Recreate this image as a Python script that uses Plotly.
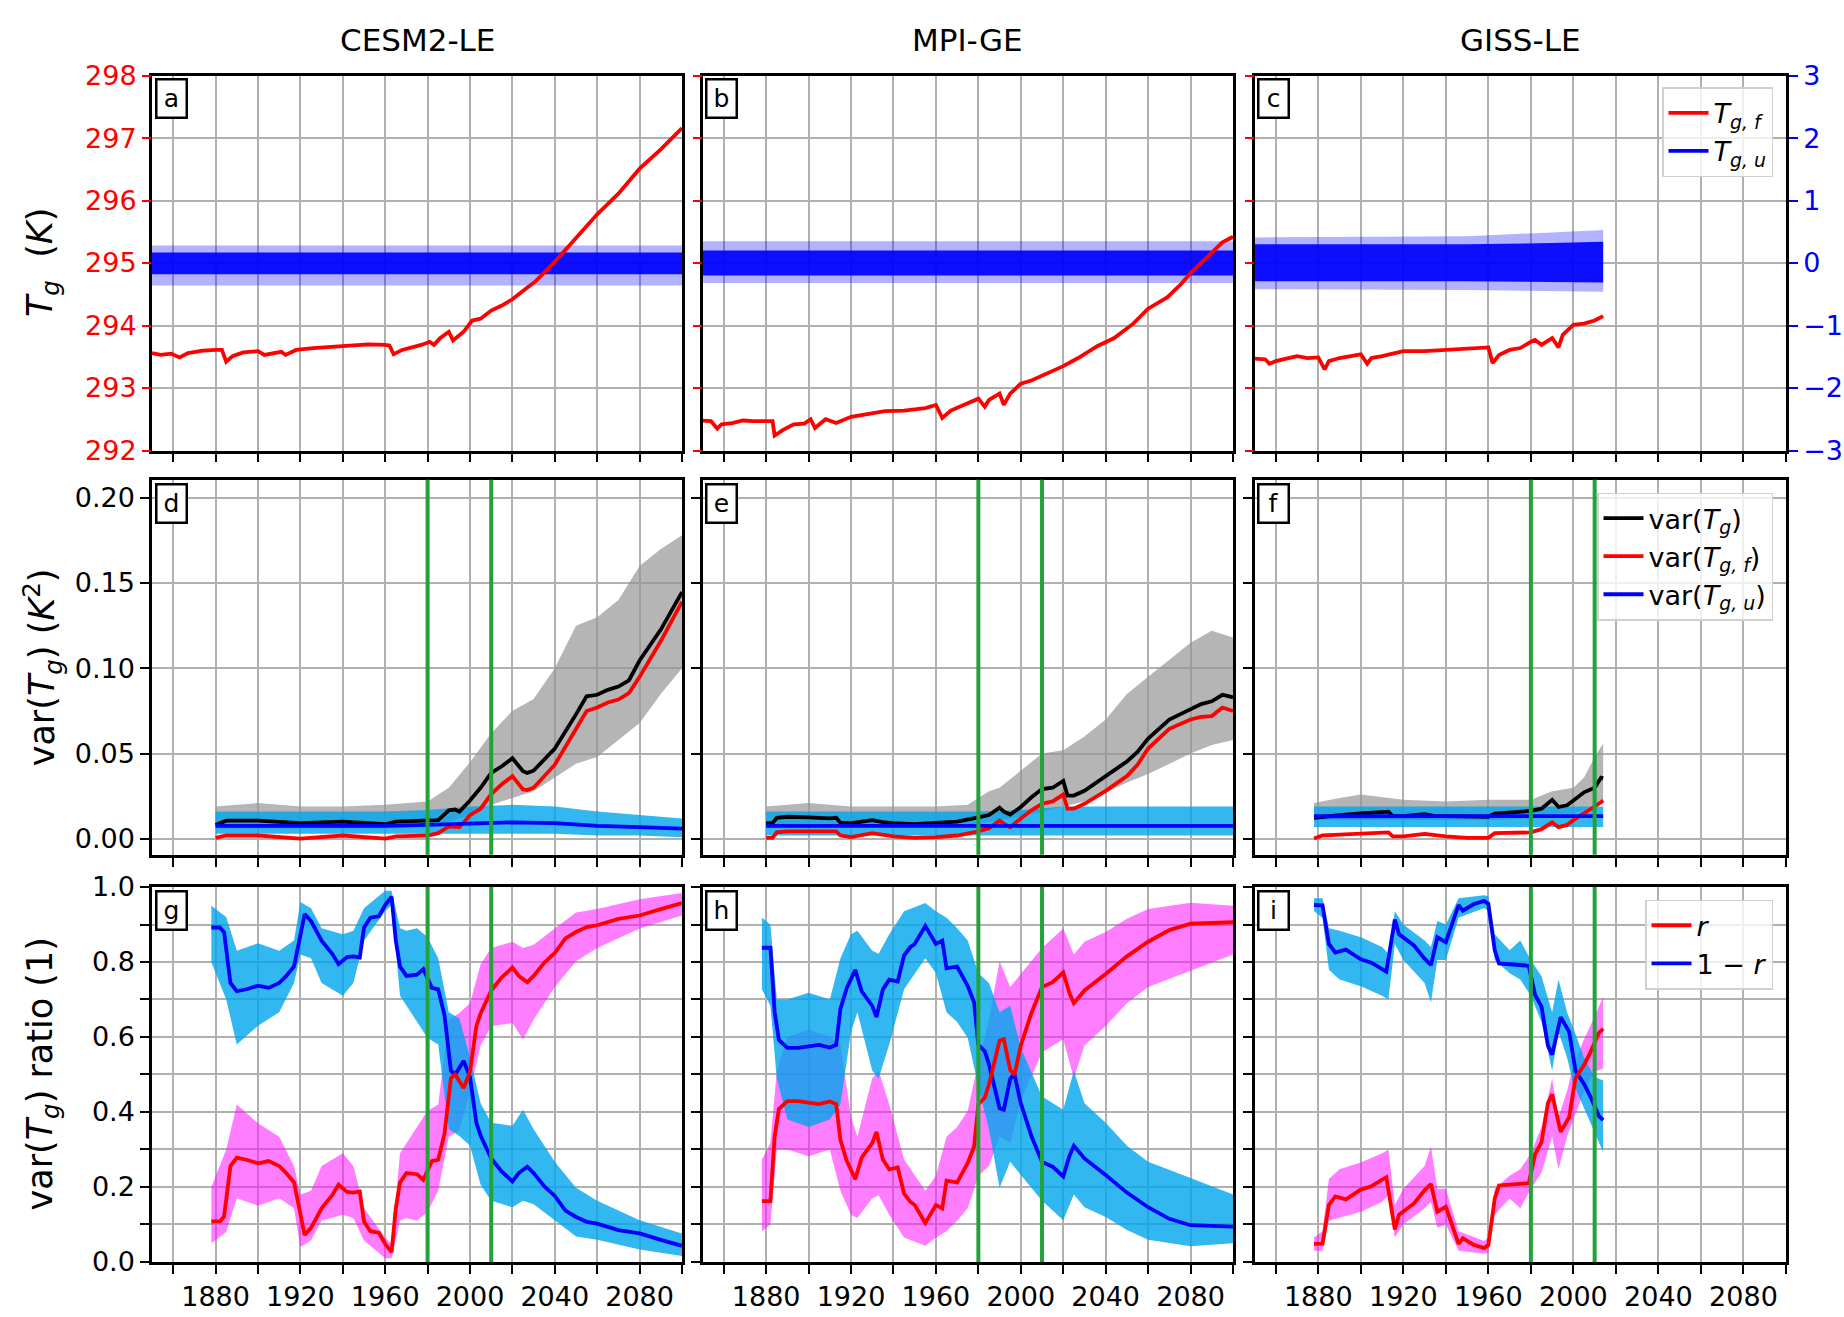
import plotly.graph_objects as go

W, H = 1844, 1317
FONT = "DejaVu Sans"

# ---------------- tick labels ----------------
X_TICKS = [1860, 1880, 1900, 1920, 1940, 1960, 1980, 2000, 2020, 2040, 2060, 2080, 2100]
X_LABELS = ["", "1880", "", "1920", "", "1960", "", "2000", "", "2040", "", "2080", ""]
TK_TICKS = [292, 293, 294, 295, 296, 297, 298]
TK_LABELS = ["292", "293", "294", "295", "296", "297", "298"]
TU_TICKS = [-3, -2, -1, 0, 1, 2, 3]
TU_LABELS = ["\u22123", "\u22122", "\u22121", "0", "1", "2", "3"]
VAR_TICKS = [0.0, 0.05, 0.10, 0.15, 0.20]
VAR_LABELS = ["0.00", "0.05", "0.10", "0.15", "0.20"]
RAT_TICKS = [0.0, 0.1, 0.2, 0.3, 0.4, 0.5, 0.6, 0.7, 0.8, 0.9, 1.0]
RAT_LABELS = ["0.0", "", "0.2", "", "0.4", "", "0.6", "", "0.8", "", "1.0"]
MODELS = ["CESM2-LE", "MPI-GE", "GISS-LE"]
PANEL_LETTERS = ["a", "b", "c", "d", "e", "f", "g", "h", "i"]
GREEN_YEARS = [1980, 2010]

# ---------------- row 1: T_g,f (K) and T_g,u ensemble envelope ----------------
tf_years_a = [1850,1854,1859,1863,1867,1874,1880,1883,1885,1888,1893,1900,1903,1907,1911,1913,1918,1926,1940,1952,
              1960,1962,1964,1968,1977,1981,1983,1986,1990,1992,1997,2001,2005,2010,2015,2020,2026,2031,2040,2050,
              2060,2070,2080,2090,2100]
tf_a = [293.56,293.53,293.55,293.49,293.56,293.60,293.61,293.61,293.42,293.51,293.57,293.59,293.53,293.56,293.58,
        293.53,293.61,293.64,293.68,293.70,293.69,293.68,293.54,293.61,293.69,293.74,293.69,293.80,293.90,293.76,
        293.90,294.08,294.11,294.24,294.32,294.42,294.58,294.71,295.02,295.41,295.78,296.11,296.51,296.82,297.16]
tf_years_b = [1850,1854,1857,1859,1864,1869,1874,1883,1884,1888,1893,1898,1901,1903,1908,1913,1920,1928,1936,1945,
              1955,1960,1963,1967,1973,1980,1983,1985,1990,1992,1995,2000,2005,2012,2020,2027,2036,2044,2053,2060,
              2069,2076,2080,2088,2095,2100]
tf_b = [292.48,292.47,292.35,292.42,292.44,292.48,292.47,292.47,292.24,292.33,292.42,292.43,292.50,292.36,292.50,
        292.44,292.54,292.59,292.63,292.64,292.68,292.73,292.52,292.64,292.73,292.83,292.70,292.81,292.91,292.73,
        292.91,293.07,293.12,293.22,293.35,293.48,293.67,293.80,294.03,294.27,294.45,294.68,294.84,295.10,295.33,
        295.42]
tf_years_c = [1850,1855,1857,1860,1865,1870,1875,1880,1883,1885,1890,1900,1903,1905,1910,1920,1930,1940,1950,1960,
              1962,1965,1970,1975,1980,1982,1985,1990,1993,1995,2000,2005,2010,2014]
tf_c = [293.47,293.46,293.39,293.43,293.47,293.51,293.48,293.49,293.30,293.43,293.48,293.54,293.39,293.48,293.51,
        293.59,293.59,293.61,293.63,293.65,293.40,293.53,293.61,293.64,293.74,293.77,293.69,293.80,293.65,293.85,
        294.01,294.03,294.08,294.15]

tu_years_a = [1850, 2100]
tu_outer_lo_a = [-0.36, -0.36]
tu_outer_hi_a = [0.28, 0.28]
tu_inner_lo_a = [-0.18, -0.18]
tu_inner_hi_a = [0.17, 0.17]
tu_years_b = [1850, 2100]
tu_outer_lo_b = [-0.32, -0.32]
tu_outer_hi_b = [0.35, 0.35]
tu_inner_lo_b = [-0.20, -0.20]
tu_inner_hi_b = [0.20, 0.20]
tu_years_c = [1850, 1950, 1990, 2014]
tu_outer_lo_c = [-0.42, -0.43, -0.45, -0.46]
tu_outer_hi_c = [0.41, 0.43, 0.49, 0.53]
tu_inner_lo_c = [-0.29, -0.29, -0.30, -0.31]
tu_inner_hi_c = [0.30, 0.30, 0.32, 0.34]

# ---------------- row 2: running variances (K^2) ----------------
var_years_d = [1880,1885,1900,1920,1940,1960,1965,1980,1985,1990,1993,1995,2000,2005,2010,2015,2020,2025,2027,2030,
               2040,2050,2055,2060,2065,2070,2075,2080,2090,2100]
var_tot_d = [0.0082,0.0107,0.0107,0.0092,0.0101,0.0086,0.0101,0.0105,0.0110,0.0168,0.0172,0.0160,0.0225,0.0300,
             0.0387,0.0426,0.0473,0.0397,0.0387,0.0400,0.0530,0.0730,0.0836,0.0845,0.0874,0.0893,0.0930,0.1046,
             0.1227,0.1447]
var_f_d = [0.0006,0.0020,0.0020,0.0002,0.0020,0.0002,0.0015,0.0020,0.0034,0.0073,0.0071,0.0069,0.0139,0.0177,
           0.0263,0.0320,0.0368,0.0290,0.0286,0.0300,0.0435,0.0645,0.0750,0.0770,0.0800,0.0817,0.0855,0.0950,
           0.1160,0.1390]
varu_years_d = [1880,1920,1960,1980,2000,2020,2040,2060,2080,2100]
var_u_d = [0.0076,0.0076,0.0076,0.0082,0.0092,0.0097,0.0092,0.0076,0.0069,0.0060]
gray_years_d = [1880,1900,1920,1940,1960,1980,1990,2000,2010,2020,2030,2040,2050,2060,2070,2080,2090,2100]
gray_hi_d = [0.019,0.021,0.019,0.019,0.020,0.022,0.030,0.045,0.062,0.075,0.082,0.100,0.125,0.130,0.140,0.160,0.170,0.178]
gray_lo_d = [0.006,0.006,0.006,0.006,0.006,0.007,0.010,0.014,0.020,0.024,0.028,0.036,0.044,0.048,0.058,0.068,0.085,0.100]
cyanv_years_d = [1880,1920,1960,1980,2000,2020,2040,2060,2080,2100]
cyanv_hi_d = [0.016,0.016,0.016,0.017,0.019,0.020,0.019,0.016,0.014,0.012]
cyanv_lo_d = [0.003,0.003,0.003,0.003,0.003,0.003,0.003,0.002,0.002,0.001]

var_years_e = [1880,1883,1885,1890,1900,1910,1913,1915,1920,1930,1935,1940,1950,1960,1970,1980,1985,1990,1992,1995,
               2000,2005,2010,2015,2020,2022,2025,2030,2040,2050,2055,2060,2070,2080,2085,2090,2095,2100]
var_tot_e = [0.0092,0.0092,0.0124,0.0130,0.0126,0.0120,0.0124,0.0095,0.0092,0.0110,0.0098,0.0092,0.0086,0.0092,
             0.0101,0.0126,0.0140,0.0183,0.0160,0.0143,0.0187,0.0244,0.0292,0.0300,0.0340,0.0254,0.0254,0.0282,
             0.0368,0.0454,0.0510,0.0588,0.0700,0.0760,0.0790,0.0807,0.0845,0.0830]
var_f_e = [0.0006,0.0006,0.0038,0.0044,0.0044,0.0044,0.0044,0.0020,0.0011,0.0034,0.0025,0.0015,0.0006,0.0010,
           0.0020,0.0044,0.0063,0.0107,0.0090,0.0069,0.0120,0.0168,0.0206,0.0220,0.0260,0.0177,0.0177,0.0206,
           0.0282,0.0368,0.0435,0.0530,0.0645,0.0700,0.0715,0.0720,0.0770,0.0750]
varu_years_e = [1880,1940,2000,2060,2100]
var_u_e = [0.0076,0.0076,0.0077,0.0077,0.0077]
gray_years_e = [1880,1900,1920,1940,1960,1975,1985,1990,2000,2010,2020,2030,2040,2050,2060,2070,2080,2090,2100]
gray_hi_e = [0.019,0.021,0.019,0.019,0.019,0.020,0.028,0.030,0.040,0.050,0.052,0.060,0.070,0.085,0.095,0.105,0.115,0.122,0.118]
gray_lo_e = [0.008,0.008,0.008,0.008,0.008,0.008,0.010,0.011,0.013,0.016,0.019,0.022,0.027,0.033,0.038,0.044,0.050,0.055,0.058]
cyanv_years_e = [1880,1940,1980,2000,2020,2040,2060,2080,2100]
cyanv_hi_e = [0.016,0.016,0.016,0.017,0.019,0.019,0.019,0.019,0.019]
cyanv_lo_e = [0.002,0.002,0.002,0.002,0.002,0.002,0.002,0.002,0.002]

var_years_f = [1878,1882,1890,1900,1910,1913,1915,1920,1930,1935,1940,1950,1960,1963,1970,1980,1985,1990,1993,1997,
               2000,2005,2010,2013,2014]
var_tot_f = [0.0124,0.0130,0.0139,0.0149,0.0158,0.0160,0.0134,0.0134,0.0145,0.0134,0.0134,0.0130,0.0130,0.0149,
             0.0153,0.0164,0.0177,0.0229,0.0187,0.0197,0.0225,0.0273,0.0300,0.0359,0.0355]
var_f_f = [0.0002,0.0020,0.0025,0.0029,0.0036,0.0038,0.0015,0.0015,0.0029,0.0020,0.0015,0.0006,0.0006,0.0034,
           0.0034,0.0038,0.0057,0.0097,0.0069,0.0082,0.0110,0.0149,0.0187,0.0215,0.0225]
varu_years_f = [1878,1950,2014]
var_u_f = [0.0133,0.0132,0.0134]
gray_years_f = [1878,1890,1900,1920,1940,1960,1980,1990,2000,2005,2010,2014]
gray_hi_f = [0.021,0.024,0.026,0.023,0.022,0.023,0.023,0.028,0.030,0.036,0.048,0.056]
gray_lo_f = [0.011,0.011,0.011,0.011,0.011,0.011,0.012,0.013,0.015,0.017,0.020,0.022]
cyanv_years_f = [1878,1950,2014]
cyanv_hi_f = [0.019,0.019,0.019]
cyanv_lo_f = [0.007,0.007,0.007]

# ---------------- row 3: variance ratios r and 1-r ----------------
rat_years_g = [1878,1882,1884,1887,1890,1895,1900,1905,1910,1913,1917,1920,1922,1925,1930,1935,1938,1942,1945,1948,
               1950,1953,1957,1960,1963,1965,1967,1970,1975,1978,1980,1982,1985,1988,1991,1993,1997,2000,2003,2005,
               2010,2015,2020,2023,2027,2030,2035,2040,2045,2050,2055,2060,2070,2080,2090,2100]
one_minus_r_g = [0.892,0.892,0.879,0.744,0.722,0.728,0.737,0.731,0.744,0.761,0.788,0.876,0.928,0.909,0.857,0.822,
                 0.794,0.813,0.815,0.812,0.892,0.918,0.922,0.952,0.974,0.857,0.788,0.763,0.766,0.781,0.755,0.731,
                 0.727,0.657,0.510,0.500,0.536,0.493,0.371,0.337,0.276,0.241,0.215,0.237,0.254,0.237,0.202,0.176,
                 0.137,0.120,0.107,0.102,0.085,0.076,0.059,0.043]
r_g = [0.108,0.108,0.121,0.256,0.278,0.272,0.263,0.269,0.256,0.239,0.212,0.124,0.072,0.091,0.143,0.178,0.206,0.187,
       0.185,0.188,0.108,0.082,0.078,0.048,0.026,0.143,0.212,0.237,0.234,0.219,0.245,0.269,0.273,0.343,0.490,0.500,
       0.464,0.507,0.629,0.663,0.724,0.759,0.785,0.763,0.746,0.763,0.798,0.824,0.863,0.880,0.893,0.898,0.915,0.924,
       0.941,0.957]
ens_years_g = [1878,1885,1890,1900,1910,1917,1920,1925,1930,1940,1945,1950,1960,1963,1967,1970,1975,1980,1985,1990,
               1995,2000,2005,2010,2020,2025,2030,2040,2050,2060,2080,2100]
cyan_hi_g = [0.95,0.92,0.83,0.85,0.83,0.857,0.96,0.943,0.89,0.874,0.883,0.943,0.99,0.99,0.89,0.883,0.89,0.866,0.81,
             0.666,0.649,0.545,0.423,0.371,0.363,0.406,0.354,0.267,0.198,0.163,0.111,0.076]
cyan_lo_g = [0.80,0.70,0.58,0.63,0.666,0.744,0.82,0.81,0.744,0.71,0.744,0.857,0.935,0.952,0.71,0.683,0.64,0.597,0.58,
             0.354,0.336,0.31,0.206,0.163,0.146,0.163,0.154,0.111,0.068,0.059,0.033,0.016]
mag_lo_g = [0.05,0.08,0.17,0.15,0.17,0.143,0.04,0.057,0.11,0.126,0.117,0.057,0.01,0.01,0.11,0.117,0.11,0.134,0.19,
            0.334,0.351,0.455,0.577,0.629,0.637,0.594,0.646,0.733,0.802,0.837,0.889,0.924]
mag_hi_g = [0.20,0.30,0.42,0.37,0.334,0.256,0.18,0.19,0.256,0.29,0.256,0.143,0.065,0.048,0.29,0.317,0.36,0.403,0.42,
            0.646,0.664,0.69,0.794,0.837,0.854,0.837,0.846,0.889,0.932,0.941,0.967,0.984]

rat_years_h = [1878,1882,1884,1886,1890,1895,1900,1905,1910,1913,1915,1918,1922,1925,1930,1932,1935,1938,1942,1945,
               1948,1950,1955,1958,1960,1963,1965,1970,1975,1978,1980,1983,1985,1990,1992,1995,1997,2000,2005,2010,
               2015,2020,2023,2025,2030,2040,2050,2060,2070,2080,2090,2100]
one_minus_r_h = [0.838,0.838,0.666,0.592,0.571,0.571,0.575,0.579,0.572,0.579,0.675,0.731,0.779,0.722,0.683,0.653,
                 0.727,0.753,0.748,0.818,0.840,0.848,0.896,0.866,0.848,0.857,0.783,0.788,0.736,0.692,0.579,0.562,
                 0.527,0.410,0.406,0.488,0.501,0.423,0.336,0.267,0.254,0.228,0.284,0.310,0.276,0.232,0.185,0.146,
                 0.115,0.098,0.095,0.094]
r_h = [0.162,0.162,0.334,0.408,0.429,0.429,0.425,0.421,0.428,0.421,0.325,0.269,0.221,0.278,0.317,0.347,0.273,0.247,
       0.252,0.182,0.160,0.152,0.104,0.134,0.152,0.143,0.217,0.212,0.264,0.308,0.421,0.438,0.473,0.590,0.594,0.512,
       0.499,0.577,0.664,0.733,0.746,0.772,0.716,0.690,0.724,0.768,0.815,0.854,0.885,0.902,0.905,0.906]
ens_years_h = [1878,1882,1885,1890,1900,1910,1915,1920,1923,1930,1933,1938,1945,1955,1960,1965,1970,1975,1980,1985,
               1990,1995,2000,2010,2020,2025,2030,2040,2050,2060,2080,2100]
cyan_hi_h = [0.918,0.90,0.70,0.70,0.718,0.70,0.81,0.874,0.883,0.83,0.822,0.874,0.935,0.957,0.935,0.918,0.89,0.857,
             0.77,0.744,0.666,0.683,0.571,0.441,0.406,0.51,0.423,0.371,0.31,0.267,0.224,0.18]
cyan_lo_h = [0.727,0.683,0.49,0.38,0.36,0.38,0.42,0.614,0.666,0.51,0.49,0.58,0.727,0.81,0.77,0.666,0.64,0.597,
             0.467,0.354,0.198,0.267,0.232,0.163,0.111,0.18,0.146,0.12,0.085,0.059,0.042,0.05]
mag_lo_h = [0.082,0.10,0.30,0.30,0.282,0.30,0.19,0.126,0.117,0.17,0.178,0.126,0.065,0.043,0.065,0.082,0.11,0.143,
            0.23,0.256,0.334,0.317,0.429,0.559,0.594,0.49,0.577,0.629,0.69,0.733,0.776,0.82]
mag_hi_h = [0.273,0.317,0.51,0.60,0.62,0.60,0.58,0.386,0.334,0.49,0.51,0.42,0.273,0.19,0.23,0.334,0.36,0.403,
            0.533,0.646,0.802,0.733,0.768,0.837,0.889,0.82,0.854,0.88,0.915,0.941,0.958,0.95]

rat_years_i = [1878,1882,1885,1888,1893,1897,1900,1905,1910,1912,1916,1918,1925,1930,1933,1936,1940,1946,1948,1953,
               1958,1960,1963,1965,1970,1975,1979,1982,1985,1988,1990,1994,1998,2001,2005,2008,2012,2014]
one_minus_r_i = [0.952,0.951,0.848,0.825,0.833,0.818,0.807,0.798,0.779,0.774,0.913,0.874,0.844,0.809,0.792,0.866,
                 0.853,0.952,0.937,0.954,0.963,0.955,0.831,0.796,0.794,0.792,0.790,0.712,0.681,0.577,0.553,0.653,
                 0.614,0.510,0.475,0.441,0.389,0.378]
r_i = [0.048,0.049,0.152,0.175,0.167,0.182,0.193,0.202,0.221,0.226,0.087,0.126,0.156,0.191,0.208,0.134,0.147,0.048,
       0.063,0.046,0.037,0.045,0.169,0.204,0.206,0.208,0.210,0.288,0.319,0.423,0.447,0.347,0.386,0.490,0.525,0.559,
       0.611,0.622]
ens_years_i = [1878,1882,1885,1890,1900,1910,1913,1916,1920,1930,1933,1936,1940,1946,1958,1960,1963,1970,1975,1980,
               1985,1990,1993,1997,2000,2005,2010,2014]
cyan_hi_i = [0.97,0.97,0.89,0.883,0.866,0.84,0.822,0.935,0.90,0.857,0.84,0.909,0.90,0.97,0.978,0.975,0.874,0.831,
             0.857,0.805,0.762,0.666,0.753,0.666,0.623,0.545,0.493,0.484]
cyan_lo_i = [0.935,0.918,0.779,0.753,0.735,0.71,0.70,0.848,0.805,0.744,0.692,0.805,0.805,0.918,0.944,0.935,0.805,
             0.77,0.753,0.71,0.64,0.51,0.614,0.545,0.475,0.406,0.345,0.293]
mag_lo_i = [0.03,0.03,0.11,0.117,0.134,0.16,0.178,0.065,0.10,0.143,0.16,0.091,0.10,0.03,0.022,0.025,0.126,0.169,
            0.143,0.195,0.238,0.334,0.247,0.334,0.377,0.455,0.507,0.516]
mag_hi_i = [0.065,0.082,0.221,0.247,0.265,0.29,0.30,0.152,0.195,0.256,0.308,0.195,0.195,0.082,0.056,0.065,0.195,
            0.23,0.247,0.29,0.36,0.49,0.386,0.455,0.525,0.594,0.655,0.707]

# ---------------- styling / geometry ----------------
COLS = [(152, 682), (702.5, 1233), (1254.5, 1786)]
ROWS = [(61, 445), (475, 859), (892, 1276)]
RED, BLUE, BLACK = "#ff0000", "#0000ff", "#000000"
GREEN = "#22a33a"
GRID = "#b0b0b0"
C_TU_OUT, C_TU_IN = "rgba(0,0,255,0.30)", "rgba(0,0,255,0.92)"
C_GRAY = "rgba(150,150,150,0.70)"
C_CYAN = "rgba(0,165,238,0.80)"
C_MAG = "rgba(255,20,255,0.55)"
LW = 3.8
TICK_SIZE = 27

fig = go.Figure()


def ax(p):
    return ("x" if p == 1 else f"x{p}"), ("y" if p == 1 else f"y{p}")


def band(xs, lo, hi, color, xa, ya):
    xs = list(xs)
    fig.add_trace(go.Scatter(x=xs + xs[::-1], y=list(hi) + list(lo)[::-1], fill="toself",
                             fillcolor=color, mode="lines", line=dict(width=0, color="rgba(0,0,0,0)"),
                             hoverinfo="skip", showlegend=False, xaxis=xa, yaxis=ya))


def line(xs, ys, color, xa, ya, name=None, legend=None, rank=None):
    fig.add_trace(go.Scatter(x=xs, y=ys, mode="lines", line=dict(color=color, width=LW),
                             hoverinfo="skip", name=name, showlegend=name is not None,
                             legend=legend, legendrank=rank if rank else 1000, xaxis=xa, yaxis=ya))


# Row 1: blue envelopes on base (right) axis, red on overlay (left) axis
row1 = [
    (tu_years_a, tu_outer_lo_a, tu_outer_hi_a, tu_inner_lo_a, tu_inner_hi_a, tf_years_a, tf_a),
    (tu_years_b, tu_outer_lo_b, tu_outer_hi_b, tu_inner_lo_b, tu_inner_hi_b, tf_years_b, tf_b),
    (tu_years_c, tu_outer_lo_c, tu_outer_hi_c, tu_inner_lo_c, tu_inner_hi_c, tf_years_c, tf_c),
]
for c, (ty, olo, ohi, ilo, ihi, fy, fv) in enumerate(row1):
    p = c + 1
    xa, ya = ax(p)
    yo = f"y{10 + c}"
    band(ty, olo, ohi, C_TU_OUT, xa, ya)
    band(ty, ilo, ihi, C_TU_IN, xa, ya)
    if c == 2:
        line(fy, fv, RED, xa, yo, name="<i>T</i><sub><i>g, f</i></sub>", legend="legend", rank=1)
        line([None], [None], BLUE, xa, ya, name="<i>T</i><sub><i>g, u</i></sub>", legend="legend", rank=2)
    else:
        line(fy, fv, RED, xa, yo)

# Row 2
row2 = [
    (gray_years_d, gray_lo_d, gray_hi_d, cyanv_years_d, cyanv_lo_d, cyanv_hi_d, var_years_d, var_tot_d, var_f_d, varu_years_d, var_u_d),
    (gray_years_e, gray_lo_e, gray_hi_e, cyanv_years_e, cyanv_lo_e, cyanv_hi_e, var_years_e, var_tot_e, var_f_e, varu_years_e, var_u_e),
    (gray_years_f, gray_lo_f, gray_hi_f, cyanv_years_f, cyanv_lo_f, cyanv_hi_f, var_years_f, var_tot_f, var_f_f, varu_years_f, var_u_f),
]
for c, (gy, glo, ghi, cy, clo, chi, vy, vt, vf, uy, vu) in enumerate(row2):
    p = 3 + c + 1
    xa, ya = ax(p)
    band(gy, glo, ghi, C_GRAY, xa, ya)
    band(cy, clo, chi, C_CYAN, xa, ya)
    if c == 2:
        line(vy, vt, BLACK, xa, ya, name="var(<i>T</i><sub><i>g</i></sub>)", legend="legend2", rank=1)
        line(vy, vf, RED, xa, ya, name="var(<i>T</i><sub><i>g, f</i></sub>)", legend="legend2", rank=2)
        line(uy, vu, BLUE, xa, ya, name="var(<i>T</i><sub><i>g, u</i></sub>)", legend="legend2", rank=3)
    else:
        line(vy, vt, BLACK, xa, ya)
        line(vy, vf, RED, xa, ya)
        line(uy, vu, BLUE, xa, ya)

# Row 3
row3 = [
    (ens_years_g, cyan_lo_g, cyan_hi_g, mag_lo_g, mag_hi_g, rat_years_g, one_minus_r_g, r_g),
    (ens_years_h, cyan_lo_h, cyan_hi_h, mag_lo_h, mag_hi_h, rat_years_h, one_minus_r_h, r_h),
    (ens_years_i, cyan_lo_i, cyan_hi_i, mag_lo_i, mag_hi_i, rat_years_i, one_minus_r_i, r_i),
]
for c, (ey, clo, chi, mlo, mhi, ry, omr, rr) in enumerate(row3):
    p = 6 + c + 1
    xa, ya = ax(p)
    band(ey, mlo, mhi, C_MAG, xa, ya)
    band(ey, clo, chi, C_CYAN, xa, ya)
    if c == 2:
        line(ry, omr, BLUE, xa, ya, name="1 \u2212 <i>r</i>", legend="legend3", rank=2)
        line(ry, rr, RED, xa, ya, name="<i>r</i>", legend="legend3", rank=1)
    else:
        line(ry, omr, BLUE, xa, ya)
        line(ry, rr, RED, xa, ya)

# ---------------- axes ----------------
layout = {}
common = dict(showline=True, linecolor=BLACK, linewidth=2.5, mirror=True, showgrid=True, gridcolor=GRID,
              gridwidth=2, zeroline=False, ticks="outside", ticklen=9, tickwidth=2, tickcolor=BLACK,
              tickfont=dict(size=TICK_SIZE, family=FONT, color=BLACK))
for r in range(3):
    for c in range(3):
        p = r * 3 + c + 1
        xk = "xaxis" if p == 1 else f"xaxis{p}"
        yk = "yaxis" if p == 1 else f"yaxis{p}"
        x0, x1 = COLS[c]
        yt, yb = ROWS[r]
        xa, ya = ax(p)
        layout[xk] = dict(common, domain=[x0 / W, x1 / W], anchor=ya, range=[1850, 2100],
                          tickmode="array", tickvals=X_TICKS, ticktext=X_LABELS,
                          showticklabels=(r == 2))
        ydom = [1 - yb / H, 1 - yt / H]
        if r == 0:
            layout[yk] = dict(common, domain=ydom, anchor=xa, range=[-3, 3], side="right",
                              tickmode="array", tickvals=TU_TICKS, ticktext=TU_LABELS,
                              ticks="outside" if c == 2 else "", showticklabels=(c == 2),
                              tickcolor=BLUE, tickfont=dict(size=TICK_SIZE, family=FONT, color=BLUE))
            layout[f"yaxis{10 + c}"] = dict(overlaying=ya, anchor=xa, side="left", range=[292, 298],
                                            tickmode="array", tickvals=TK_TICKS, ticktext=TK_LABELS,
                                            showgrid=False, zeroline=False, showline=False,
                                            ticks="outside", ticklen=9, tickwidth=2, tickcolor=RED,
                                            showticklabels=(c == 0),
                                            tickfont=dict(size=TICK_SIZE, family=FONT, color=RED))
        elif r == 1:
            layout[yk] = dict(common, domain=ydom, anchor=xa, range=[-0.0093, 0.2105],
                              tickmode="array", tickvals=VAR_TICKS, ticktext=VAR_LABELS,
                              showticklabels=(c == 0))
        else:
            layout[yk] = dict(common, domain=ydom, anchor=xa, range=[0, 1],
                              tickmode="array", tickvals=RAT_TICKS, ticktext=RAT_LABELS,
                              showticklabels=(c == 0))

# ---------------- annotations ----------------
ann = []
for c, name in enumerate(MODELS):
    x0, x1 = COLS[c]
    ann.append(dict(text=name, x=(x0 + x1) / 2 / W, y=1 - 25 / H, xref="paper", yref="paper",
                    xanchor="center", yanchor="middle", showarrow=False,
                    font=dict(size=31, family=FONT, color=BLACK)))
ylabels = ["<i>T</i><sub><i>g</i></sub>\u00a0 (<i>K</i>)",
           "var(<i>T</i><sub><i>g</i></sub>) (<i>K</i><sup>2</sup>)",
           "var(<i>T</i><sub><i>g</i></sub>) ratio (1)"]
for r, t in enumerate(ylabels):
    yt, yb = ROWS[r]
    ann.append(dict(text=t, x=42 / W, y=1 - (yt + yb) / 2 / H, xref="paper", yref="paper",
                    xanchor="center", yanchor="middle", textangle=-90, showarrow=False,
                    font=dict(size=35, family=FONT, color=BLACK)))
for r in range(3):
    for c in range(3):
        x0, _ = COLS[c]
        yt, _ = ROWS[r]
        ann.append(dict(text=PANEL_LETTERS[r * 3 + c], x=(x0 + 2.5) / W, y=1 - (yt + 3) / H,
                        xref="paper", yref="paper", xanchor="left", yanchor="top", showarrow=False,
                        width=24, height=32, borderpad=2, bordercolor=BLACK, borderwidth=2.5,
                        bgcolor="white", font=dict(size=25, family=FONT, color=BLACK)))

# ---------------- green reference lines ----------------
shapes = []
for r in (1, 2):
    for c in range(3):
        p = r * 3 + c + 1
        xa, ya = ax(p)
        for yr in GREEN_YEARS:
            shapes.append(dict(type="line", xref=xa, yref=f"{ya} domain", x0=yr, x1=yr, y0=0, y1=1,
                               line=dict(color=GREEN, width=4), layer="above"))

leg_common = dict(xanchor="right", yanchor="top", bgcolor="rgba(255,255,255,0.8)",
                  bordercolor="#d0d0d0", borderwidth=1.5, font=dict(size=27, family=FONT, color=BLACK),
                  traceorder="normal", itemwidth=40, tracegroupgap=0)

fig.update_layout(
    width=W, height=H, margin=dict(l=0, r=0, t=0, b=0),
    paper_bgcolor="white", plot_bgcolor="white",
    font=dict(family=FONT, color=BLACK),
    hovermode=False,
    showlegend=True,
    legend=dict(leg_common, x=1773 / W, y=1 - 73 / H),
    legend2=dict(leg_common, x=1773 / W, y=1 - 488 / H),
    legend3=dict(leg_common, x=1773 / W, y=1 - 905 / H),
    annotations=ann,
    shapes=shapes,
    **layout,
)

fig.write_html("out.html")
